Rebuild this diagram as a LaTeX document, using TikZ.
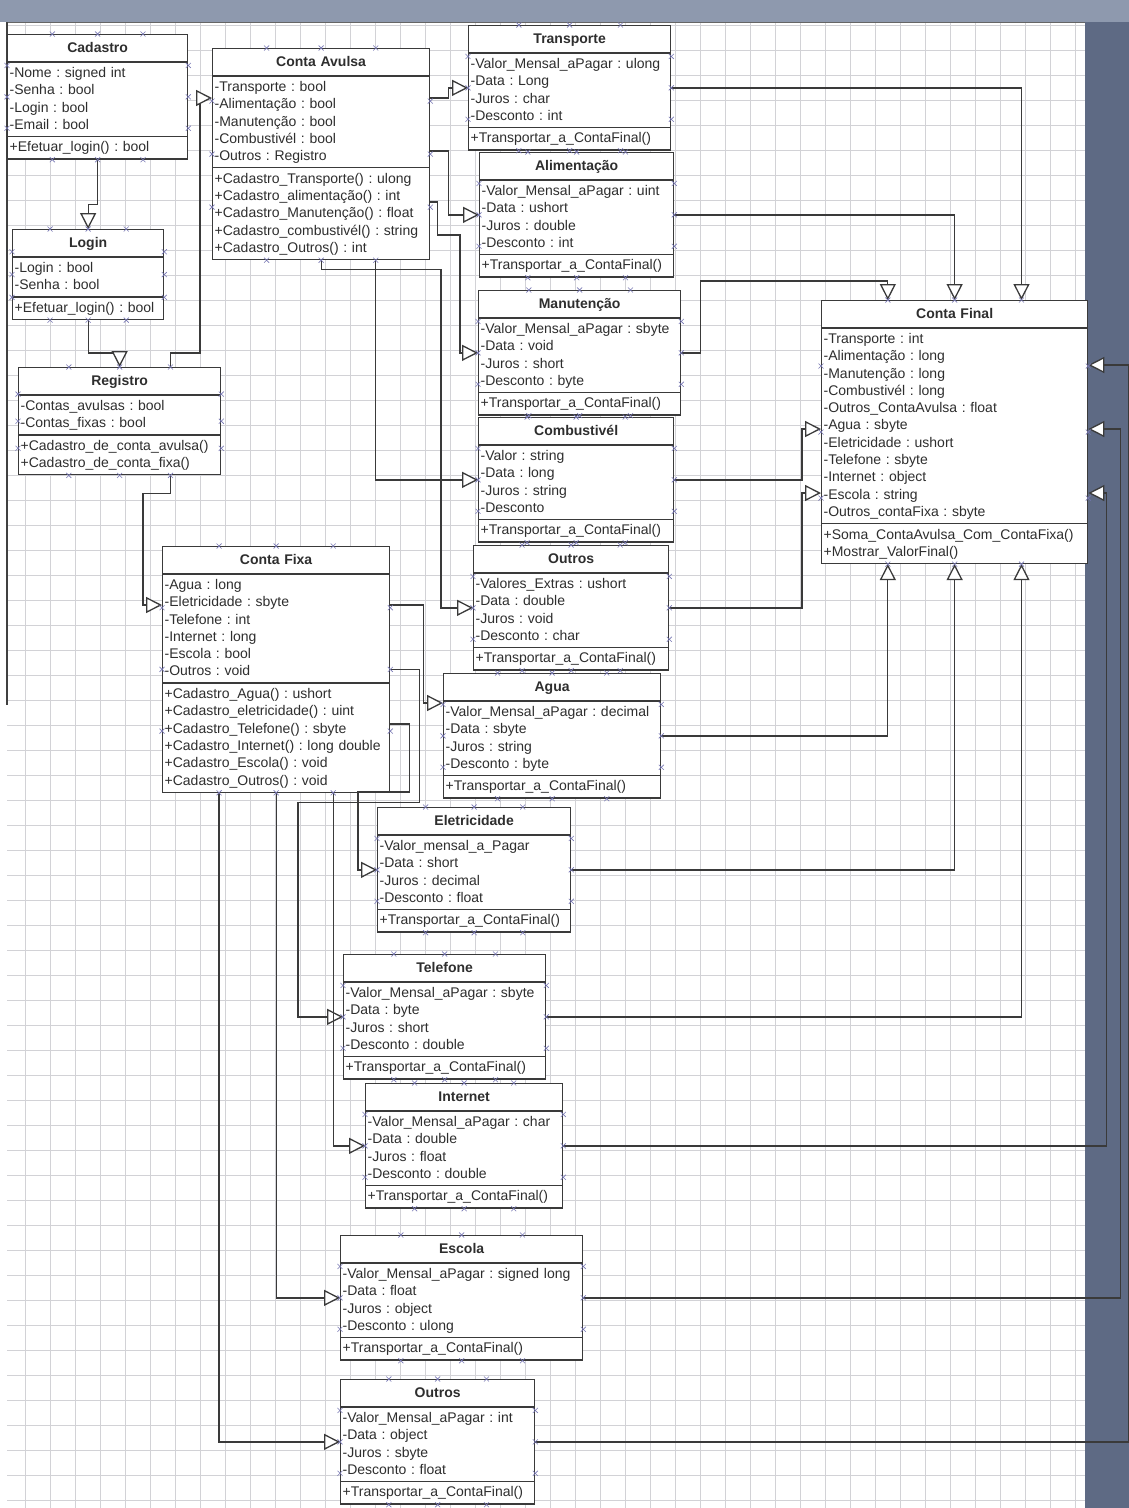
\documentclass[tikz,border=0pt]{standalone}
\usepackage{fontspec}
\setmainfont{Liberation Sans}
\usetikzlibrary{shapes.multipart,arrows.meta,calc}
\setlength{\parindent}{0pt}
\frenchspacing
\definecolor{linecol}{HTML}{3A3A3A}
\definecolor{textcol}{HTML}{2E2E2E}
\definecolor{markcol}{HTML}{7878B4}
\definecolor{gridcol}{HTML}{D2D2D6}
\definecolor{topband}{HTML}{8E99AE}
\definecolor{sideband}{HTML}{5E6A84}
\newcommand\classfont{\fontsize{14}{17.3}\selectfont}
\newcommand\rowstrut{\rule[-4.5pt]{0pt}{17.3pt}}
\newcommand\nxt{\\\rowstrut}
\newcommand\ctitle[1]{\hfill\rule[-6.5pt]{0pt}{22pt}\textbf{#1}\hfill\null}
\begin{document}
\begin{tikzpicture}[x=1pt, y=-1pt, >=stealth,
  umlclass/.style={rectangle split, rectangle split parts=3, draw=linecol, line width=1.3pt,
    fill=white, anchor=north west, inner xsep=2pt, inner ysep=2pt, font=\classfont, text=textcol},
  gen/.style={draw=linecol, line width=1.3pt, -{Triangle[length=16pt,width=16pt,fill=white]}},
  cpmark/.pic={\draw[markcol, line width=0.6pt] (-2.5,-2.5) -- (2.5,2.5) (-2.5,2.5) -- (2.5,-2.5);}]
\useasboundingbox (0,0) rectangle (1129,1508);
% window and page
\fill[white] (0,0) rectangle (1129,1508);
\draw[gridcol, line width=0.6pt, step=25pt] (7,22) grid (1085,1508);
\fill[topband] (0,0) rectangle (1129,22);
\fill[sideband] (1085,22) rectangle (1129,1508);
\draw[black!60, line width=1pt] (7,22) -- (1085,22);
\draw[black!75, line width=1.5pt] (7,22) -- (7,705);

% classes, left column
\node[umlclass, text width=176pt] (cadastro) at (7,34) {\ctitle{Cadastro}
  \nodepart{two}\rowstrut-Nome : signed int\nxt-Senha : bool\nxt-Login : bool\nxt-Email : bool
  \nodepart{three}\rowstrut+Efetuar\_login() : bool};
\node[umlclass, text width=147pt] (login) at (12,229) {\ctitle{Login}
  \nodepart{two}\rowstrut-Login : bool\nxt-Senha : bool
  \nodepart{three}\rowstrut+Efetuar\_login() : bool};
\node[umlclass, text width=198pt] (registro) at (18,367) {\ctitle{Registro}
  \nodepart{two}\rowstrut-Contas\_avulsas : bool\nxt-Contas\_fixas : bool
  \nodepart{three}\rowstrut+Cadastro\_de\_conta\_avulsa()\nxt+Cadastro\_de\_conta\_fixa()};
\node[umlclass, text width=213pt] (avulsa) at (212,48) {\ctitle{Conta Avulsa}
  \nodepart{two}\rowstrut-Transporte : bool\nxt-Alimentação : bool\nxt-Manutenção : bool\nxt-Combustivél : bool\nxt-Outros : Registro
  \nodepart{three}\rowstrut+Cadastro\_Transporte() : ulong\nxt+Cadastro\_alimentação() : int\nxt+Cadastro\_Manutenção() : float\nxt+Cadastro\_combustivél() : string\nxt+Cadastro\_Outros() : int};
\node[umlclass, text width=223pt] (fixa) at (162,546) {\ctitle{Conta Fixa}
  \nodepart{two}\rowstrut-Agua : long\nxt-Eletricidade : sbyte\nxt-Telefone : int\nxt-Internet : long\nxt-Escola : bool\nxt-Outros : void
  \nodepart{three}\rowstrut+Cadastro\_Agua() : ushort\nxt+Cadastro\_eletricidade() : uint\nxt+Cadastro\_Telefone() : sbyte\nxt+Cadastro\_Internet() : long double\nxt+Cadastro\_Escola() : void\nxt+Cadastro\_Outros() : void};

% classes of Conta Avulsa
\node[umlclass, text width=198pt] (transporte) at (468,25) {\ctitle{Transporte}
  \nodepart{two}\rowstrut-Valor\_Mensal\_aPagar : ulong\nxt-Data : Long\nxt-Juros : char\nxt-Desconto : int
  \nodepart{three}\rowstrut+Transportar\_a\_ContaFinal()};
\node[umlclass, text width=190pt] (alim) at (479,152) {\ctitle{Alimentação}
  \nodepart{two}\rowstrut-Valor\_Mensal\_aPagar : uint\nxt-Data : ushort\nxt-Juros : double\nxt-Desconto : int
  \nodepart{three}\rowstrut+Transportar\_a\_ContaFinal()};
\node[umlclass, text width=198pt] (manut) at (478,290) {\ctitle{Manutenção}
  \nodepart{two}\rowstrut-Valor\_Mensal\_aPagar : sbyte\nxt-Data : void\nxt-Juros : short\nxt-Desconto : byte
  \nodepart{three}\rowstrut+Transportar\_a\_ContaFinal()};
\node[umlclass, text width=191pt] (combust) at (478,417) {\ctitle{Combustivél}
  \nodepart{two}\rowstrut-Valor : string\nxt-Data : long\nxt-Juros : string\nxt-Desconto
  \nodepart{three}\rowstrut+Transportar\_a\_ContaFinal()};
\node[umlclass, text width=191pt] (outrosa) at (473,545) {\ctitle{Outros}
  \nodepart{two}\rowstrut-Valores\_Extras : ushort\nxt-Data : double\nxt-Juros : void\nxt-Desconto : char
  \nodepart{three}\rowstrut+Transportar\_a\_ContaFinal()};

% classes of Conta Fixa
\node[umlclass, text width=213pt] (agua) at (443,673) {\ctitle{Agua}
  \nodepart{two}\rowstrut-Valor\_Mensal\_aPagar : decimal\nxt-Data : sbyte\nxt-Juros : string\nxt-Desconto : byte
  \nodepart{three}\rowstrut+Transportar\_a\_ContaFinal()};
\node[umlclass, text width=189pt] (elet) at (377,807) {\ctitle{Eletricidade}
  \nodepart{two}\rowstrut-Valor\_mensal\_a\_Pagar\nxt-Data : short\nxt-Juros : decimal\nxt-Desconto : float
  \nodepart{three}\rowstrut+Transportar\_a\_ContaFinal()};
\node[umlclass, text width=198pt] (telefone) at (343,954) {\ctitle{Telefone}
  \nodepart{two}\rowstrut-Valor\_Mensal\_aPagar : sbyte\nxt-Data : byte\nxt-Juros : short\nxt-Desconto : double
  \nodepart{three}\rowstrut+Transportar\_a\_ContaFinal()};
\node[umlclass, text width=193pt] (internet) at (365,1083) {\ctitle{Internet}
  \nodepart{two}\rowstrut-Valor\_Mensal\_aPagar : char\nxt-Data : double\nxt-Juros : float\nxt-Desconto : double
  \nodepart{three}\rowstrut+Transportar\_a\_ContaFinal()};
\node[umlclass, text width=238pt] (escola) at (340,1235) {\ctitle{Escola}
  \nodepart{two}\rowstrut-Valor\_Mensal\_aPagar : signed long\nxt-Data : float\nxt-Juros : object\nxt-Desconto : ulong
  \nodepart{three}\rowstrut+Transportar\_a\_ContaFinal()};
\node[umlclass, text width=190pt] (outrosb) at (340,1379) {\ctitle{Outros}
  \nodepart{two}\rowstrut-Valor\_Mensal\_aPagar : int\nxt-Data : object\nxt-Juros : sbyte\nxt-Desconto : float
  \nodepart{three}\rowstrut+Transportar\_a\_ContaFinal()};

% final class
\node[umlclass, text width=262pt] (final) at (821,300) {\ctitle{Conta Final}
  \nodepart{two}\rowstrut-Transporte : int\nxt-Alimentação : long\nxt-Manutenção : long\nxt-Combustivél : long\nxt-Outros\_ContaAvulsa : float\nxt-Agua : sbyte\nxt-Eletricidade : ushort\nxt-Telefone : sbyte\nxt-Internet : object\nxt-Escola : string\nxt-Outros\_contaFixa : sbyte
  \nodepart{three}\rowstrut+Soma\_ContaAvulsa\_Com\_ContaFixa()\nxt+Mostrar\_ValorFinal()};

% login chain
\draw[gen] (cadastro.south) -- ++(0,45) -| (login.north);
\draw[gen] (login.south) -- ++(0,33) -| (registro.north);
\draw[gen] ($(registro.north west)!0.75!(registro.north east)$) -- ++(0,-14)
  -| ([xshift=-12pt,yshift=-50pt]avulsa.north west) -- ([yshift=-50pt]avulsa.north west);
\draw[gen] ($(registro.south west)!0.75!(registro.south east)$) -- ++(0,18)
  -| ([xshift=-19pt,yshift=-59pt]fixa.north west) -- ([yshift=-59pt]fixa.north west);

% Conta Avulsa to its classes
\draw[gen] ([yshift=-50pt]avulsa.north east) -- ++(18,0) |- (transporte.west);
\draw[gen] ([yshift=-103pt]avulsa.north east) -- ++(18,0) |- (alim.west);
\draw[gen] ([yshift=-154pt]avulsa.north east) -- ++(7,0) -- ++(0,33)
  -| ([xshift=-18pt]manut.west) -- (manut.west);
\draw[gen] ($(avulsa.south west)!0.75!(avulsa.south east)$) |- (combust.west);
\draw[gen] (avulsa.south) -- ++(0,9) -| ([xshift=-32pt]outrosa.west) -- (outrosa.west);

% Conta Fixa to its classes
\draw[gen] ([yshift=-59pt]fixa.north east) -- ++(33,0) |- ([yshift=-30pt]agua.north west);
\draw[gen] ([yshift=-178pt]fixa.north east) -- ++(19,0) -- ++(0,68)
  -| ([xshift=-19pt]elet.west) -- (elet.west);
\draw[gen] (fixa.east) -- ++(29,0) -- ++(0,133) -| ([xshift=-45pt]telefone.west) -- (telefone.west);
\draw[gen] ($(fixa.south west)!0.75!(fixa.south east)$) |- (internet.west);
\draw[gen] (fixa.south) |- (escola.west);
\draw[gen] ($(fixa.south west)!0.25!(fixa.south east)$) |- (outrosb.west);

% everything into Conta Final
\draw[gen] (transporte.east) -| ($(final.north west)!0.75!(final.north east)$);
\draw[gen] (alim.east) -| (final.north);
\draw[gen] (manut.east) -- ++(19,0) |- ($(final.north west)!0.25!(final.north east)+(0,-19)$)
  -- ($(final.north west)!0.25!(final.north east)$);
\draw[gen] (combust.east) -| ([xshift=-19pt,yshift=-129pt]final.north west) -- ([yshift=-129pt]final.north west);
\draw[gen] (outrosa.east) -| ([xshift=-19pt,yshift=-193pt]final.north west) -- ([yshift=-193pt]final.north west);
\draw[gen] (agua.east) -| ($(final.south west)!0.25!(final.south east)$);
\draw[gen] (elet.east) -| (final.south);
\draw[gen] (telefone.east) -| ($(final.south west)!0.75!(final.south east)$);
\draw[gen] (internet.east) -| ([xshift=18pt,yshift=-193pt]final.north east) -- ([yshift=-193pt]final.north east);
\draw[gen] (escola.east) -| ([xshift=32pt,yshift=-129pt]final.north east) -- ([yshift=-129pt]final.north east);
\draw[gen] (outrosb.east) -| ([xshift=40pt,yshift=-65pt]final.north east) -- ([yshift=-65pt]final.north east);

% connection points
\foreach \c in {cadastro,login,registro,avulsa,fixa,transporte,alim,manut,combust,outrosa,agua,elet,telefone,internet,escola,outrosb,final}{
  \foreach \t in {0.25,0.5,0.75}{
    \pic at ($(\c.north west)!\t!(\c.north east)$) {cpmark};
    \pic at ($(\c.south west)!\t!(\c.south east)$) {cpmark};
    \pic at ($(\c.north west)!\t!(\c.south west)$) {cpmark};
    \pic at ($(\c.north east)!\t!(\c.south east)$) {cpmark};
  }
}
\end{tikzpicture}
\end{document}
